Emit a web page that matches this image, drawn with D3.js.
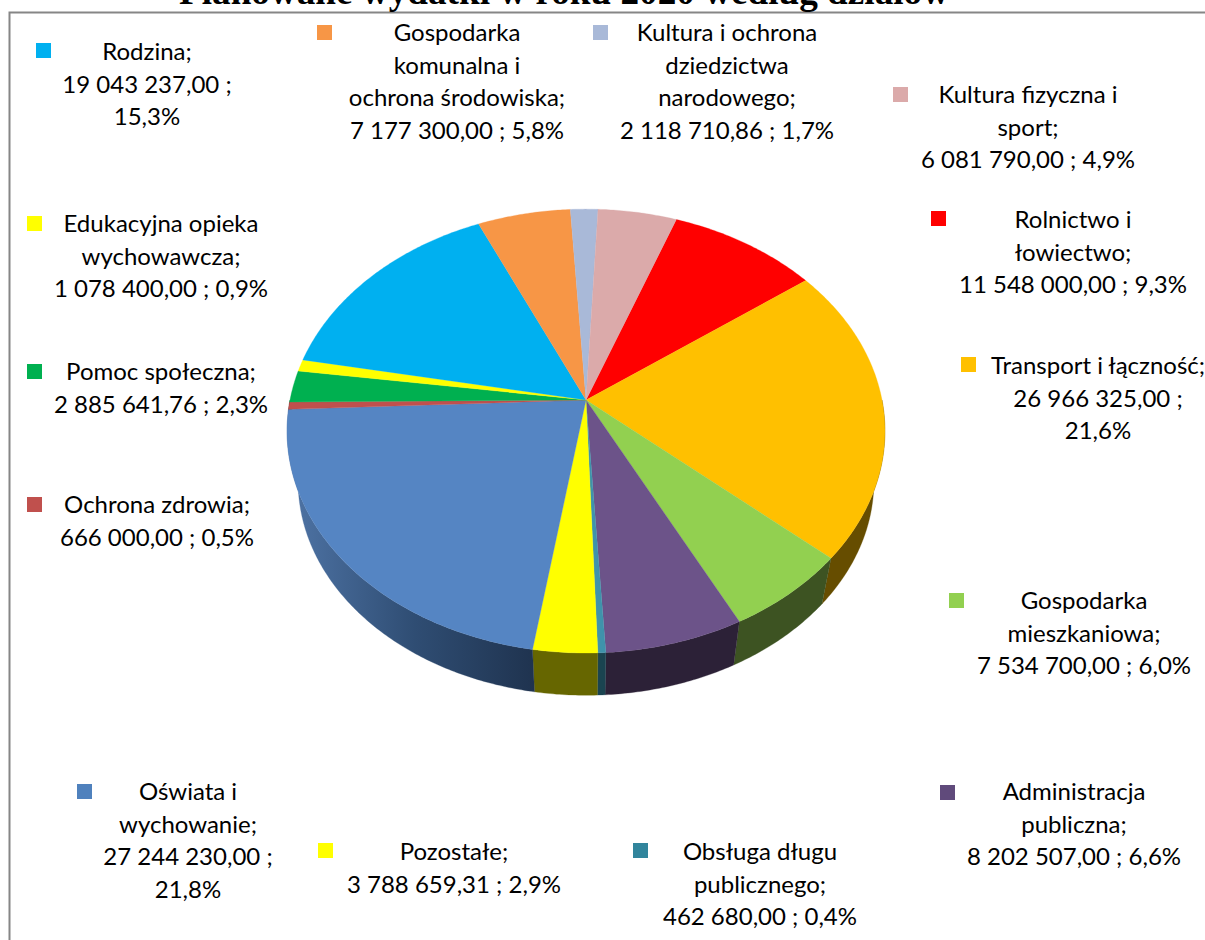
<!DOCTYPE html>
<html><head><meta charset="utf-8">
<script src="https://cdnjs.cloudflare.com/ajax/libs/d3/7.8.5/d3.min.js"></script>
<style>html,body{margin:0;padding:0;background:#fff;overflow:hidden}svg{display:block}</style>
</head><body><svg id="c" width="1205" height="940"></svg>
<script>
const chartTitle = "Planowane wydatki w roku 2020 według działów";
const categories = ["Rolnictwo i łowiectwo","Transport i łączność","Gospodarka mieszkaniowa","Administracja publiczna","Obsługa długu publicznego","Pozostałe","Oświata i wychowanie","Ochrona zdrowia","Pomoc społeczna","Edukacyjna opieka wychowawcza","Rodzina","Gospodarka komunalna i ochrona środowiska","Kultura i ochrona dziedzictwa narodowego","Kultura fizyczna i sport"];
const values = [11548000,26966325,7534700,8202507,462680,3788659.31,27244230,666000,2885641.76,1078400,19043237,7177300,2118710.86,6081790];
const topColors = ["#ff0000","#ffc000","#92d050","#6c5389","#3f93ab","#ffff00","#5585c3","#c0504d","#00b050","#ffff00","#00b0f0","#f79646","#a9b9d8","#dbaaaa"];
const wallColors = ["#660000","#664d00","#3d5322","#2c2137","#1a4450","#666600","url(#wallBlue)","#4d2020","#004620","#666600","#004660","#633c1c","#444a56","#584444"];
const keyColors = ["#ff0000","#ffc000","#92d050","#604a7b","#31859c","#ffff00","#4f81bd","#c0504d","#00b050","#ffff00","#00b0f0","#f79646","#a9b9d8","#dbaaaa"];
const labelLines = [
 ["Rolnictwo i","łowiectwo;","11 548 000,00 ; 9,3%"],
 ["Transport i łączność;","26 966 325,00 ;","21,6%"],
 ["Gospodarka","mieszkaniowa;","7 534 700,00 ; 6,0%"],
 ["Administracja","publiczna;","8 202 507,00 ; 6,6%"],
 ["Obsługa długu","publicznego;","462 680,00 ; 0,4%"],
 ["Pozostałe;","3 788 659,31 ; 2,9%"],
 ["Oświata i","wychowanie;","27 244 230,00 ;","21,8%"],
 ["Ochrona zdrowia;","666 000,00 ; 0,5%"],
 ["Pomoc społeczna;","2 885 641,76 ; 2,3%"],
 ["Edukacyjna opieka","wychowawcza;","1 078 400,00 ; 0,9%"],
 ["Rodzina;","19 043 237,00 ;","15,3%"],
 ["Gospodarka","komunalna i","ochrona środowiska;","7 177 300,00 ; 5,8%"],
 ["Kultura i ochrona","dziedzictwa","narodowego;","2 118 710,86 ; 1,7%"],
 ["Kultura fizyczna i","sport;","6 081 790,00 ; 4,9%"]
];
// layout: [text centre x, first baseline y, key x, key y]
const labelLayout = [
 [1073,228,931,211],[1098,374,961,357],[1084,609,949,593],[1074,800,940,785],
 [760,860,633,843],[454,860,318,843],[188,800,77,784],[157,513,27,497],
 [161,380,27,364],[161,232,27,216],[147,60,36,43],[457,41,317,25],
 [727,41,593,25],[1028,103,893,87]
];
const svg = d3.select("#c");
const defs = svg.append("defs");
const wb = defs.append("linearGradient").attr("id","wallBlue").attr("gradientUnits","userSpaceOnUse")
  .attr("x1",295).attr("x2",535).attr("y1",0).attr("y2",0);
wb.append("stop").attr("offset",0).attr("stop-color","#4d72a3");
wb.append("stop").attr("offset",.5).attr("stop-color","#2f4d73");
wb.append("stop").attr("offset",1).attr("stop-color","#1f334f");

// frame
svg.append("rect").attr("x",9.5).attr("y",12.5).attr("width",1300).attr("height",1000)
  .attr("fill","#fff").attr("stroke","#868686").attr("stroke-width",2);
// title
svg.append("text").attr("x",564).attr("y",4).attr("text-anchor","middle")
  .attr("font-family","'Liberation Serif'").attr("font-weight","bold").attr("font-size",37.2)
  .attr("fill","#000").text(chartTitle);

// perspective disc: unit circle -> screen
const a=217.6,b=296,k=0.14;
function proj(ang,c){
  const u=Math.sin(ang), v=-Math.cos(ang), w=1-k*v;
  return [c.cx+c.s*b*u/w, c.cy+c.s*a*v/w];
}
const topDisc={cx:586,cy:400,s:1}, botDisc={cx:586,cy:451.6,s:0.963};
const startDeg=20.2;
const pie=d3.pie().sort(null).value(d=>d)
  .startAngle(startDeg*Math.PI/180).endAngle((startDeg+360)*Math.PI/180);
const arcs=pie(values);
const line=d3.line();
function sweep(s,e){
  const n=Math.max(2,Math.ceil((e-s)/0.01));
  return d3.range(n+1).map(i=>s+(e-s)*i/n);
}
// walls: only the front half of the rim can be seen
svg.append("g").selectAll("path").data(arcs).join("path")
  .attr("d",d=>{
    const s0=Math.max(d.startAngle,Math.PI/2), e0=Math.min(d.endAngle,3*Math.PI/2);
    if(s0>=e0) return null;
    const s=sweep(s0,e0);
    return line(s.map(t=>proj(t,topDisc)).concat(s.slice().reverse().map(t=>proj(t,botDisc))))+"Z";
  })
  .attr("fill",(d,i)=>wallColors[i]).attr("stroke",(d,i)=>wallColors[i]).attr("stroke-width",.3);
// top faces
svg.append("g").selectAll("path").data(arcs).join("path")
  .attr("d",d=>line([[topDisc.cx,topDisc.cy]].concat(sweep(d.startAngle,d.endAngle).map(t=>proj(t,topDisc))))+"Z")
  .attr("fill",(d,i)=>topColors[i]).attr("stroke",(d,i)=>topColors[i]).attr("stroke-width",.3);

// legend keys and labels
const lg=svg.append("g").selectAll("g").data(categories).join("g");
lg.append("rect")
  .attr("x",(d,i)=>labelLayout[i][2]).attr("y",(d,i)=>labelLayout[i][3])
  .attr("width",15).attr("height",15).attr("fill",(d,i)=>keyColors[i]);
lg.each(function(d,i){
  const g=d3.select(this), L=labelLayout[i];
  labelLines[i].forEach((t,j)=>{
    g.append("text")
     .attr("x",L[0]).attr("y",L[1]+j*32.6)
     .attr("text-anchor","middle").attr("font-family","Lato").attr("font-size",24)
     .attr("fill","#000").text(t);
  });
});
</script></body></html>
